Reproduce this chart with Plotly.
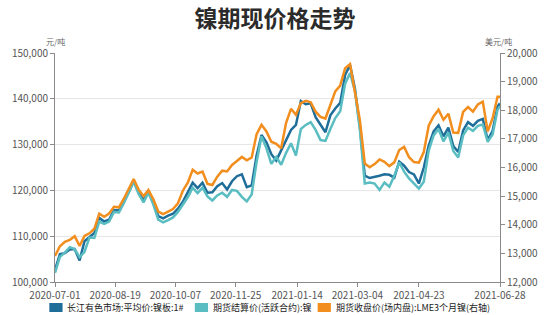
import plotly.graph_objects as go

dates = [
    "2020-07-01", "2020-07-05", "2020-07-09", "2020-07-13", "2020-07-17", "2020-07-21", "2020-07-25", "2020-07-29",
    "2020-08-02", "2020-08-06", "2020-08-10", "2020-08-14", "2020-08-18", "2020-08-22", "2020-08-26", "2020-08-30",
    "2020-09-03", "2020-09-07", "2020-09-11", "2020-09-15", "2020-09-19", "2020-09-23", "2020-09-27", "2020-10-01",
    "2020-10-05", "2020-10-09", "2020-10-13", "2020-10-17", "2020-10-21", "2020-10-25", "2020-10-29", "2020-11-02",
    "2020-11-06", "2020-11-10", "2020-11-14", "2020-11-18", "2020-11-22", "2020-11-26", "2020-11-30", "2020-12-04",
    "2020-12-08", "2020-12-12", "2020-12-16", "2020-12-20", "2020-12-24", "2020-12-28", "2021-01-01", "2021-01-05",
    "2021-01-09", "2021-01-13", "2021-01-17", "2021-01-21", "2021-01-25", "2021-01-29", "2021-02-02", "2021-02-06",
    "2021-02-10", "2021-02-14", "2021-02-18", "2021-02-22", "2021-02-26", "2021-03-02", "2021-03-06", "2021-03-10",
    "2021-03-14", "2021-03-18", "2021-03-22", "2021-03-26", "2021-03-30", "2021-04-03", "2021-04-07", "2021-04-11",
    "2021-04-15", "2021-04-19", "2021-04-23", "2021-04-27", "2021-05-01", "2021-05-05", "2021-05-09", "2021-05-13",
    "2021-05-17", "2021-05-21", "2021-05-25", "2021-05-29", "2021-06-02", "2021-06-06", "2021-06-10", "2021-06-14",
    "2021-06-18", "2021-06-22", "2021-06-26", "2021-06-28",
]

# 长江有色市场:平均价:镍板:1#  (元/吨)
spot_cj = [
    102600, 106100, 106300, 107100, 107200, 104700, 108900, 109900,
    110700, 114000, 113200, 113600, 115700, 115600, 117500, 119600,
    122100, 119600, 117800, 119900, 117400, 114400, 113900, 114500,
    114900, 116000, 117500, 119500, 121700, 120500, 121700, 119500,
    119600, 120900, 121600, 120200, 122000, 123100, 123500, 120700,
    121100, 127600, 132100, 130500, 127900, 126500, 128800, 130900,
    133200, 134300, 139500, 138800, 139000, 136000, 134300, 132700,
    136400, 137900, 139100, 145200, 147400, 142200, 134000, 123200,
    122700, 122900, 123200, 123500, 123400, 122800, 126300, 125400,
    124000, 123500, 121500, 125000, 129800, 132900, 134200, 131800,
    133700, 129700, 128400, 133100, 134900, 134100, 135200, 135600,
    131000, 133000, 138300, 139000,
]

# 期货结算价(活跃合约):镍  (元/吨)
futures_settle = [
    102000, 105500, 106400, 107600, 107200, 105400, 106600, 109700,
    109600, 113200, 112700, 113200, 115300, 115200, 117200, 119400,
    121900, 119200, 117400, 119500, 116900, 113600, 113000, 113500,
    114100, 115300, 116800, 118500, 120600, 119400, 120600, 118700,
    117800, 118900, 119500, 118600, 120100, 119900, 118600, 117600,
    119100, 126200, 131800, 129200, 125800, 127300, 125600, 128200,
    130300, 127600, 133400, 134300, 134900, 133200, 131000, 130800,
    133400, 135800, 137300, 143300, 145600, 141700, 133300, 121500,
    121700, 121500, 120100, 121700, 120800, 123200, 126100, 124100,
    122600, 121400, 120400, 121900, 128700, 132000, 133400, 130700,
    132600, 128600, 127200, 132000, 133700, 133000, 134100, 134400,
    130600, 132200, 137600, 138400,
]

# 期货收盘价(场内盘):LME3个月镍  (美元/吨, 右轴)
lme_close = [
    12910, 13250, 13400, 13470, 13600, 13260, 13610, 13700,
    13860, 14390, 14280, 14390, 14630, 14610, 14910, 15260,
    15600, 15230, 15000, 15210, 14890, 14460, 14370, 14460,
    14550, 14750, 15190, 15470, 15920, 15790, 15860, 15430,
    15390, 15680, 15890, 15860, 16090, 16230, 16370, 16250,
    16350, 17160, 17490, 17260, 16900, 16830, 16670, 17560,
    18050, 17840, 18250, 18330, 18280, 17950, 17770, 17710,
    18180, 18660, 18860, 19470, 19610, 18680, 17650, 16140,
    16010, 16120, 16280, 16200, 16050, 16180, 16610, 16720,
    16360, 16190, 16170, 16540, 17460, 17790, 18020, 17670,
    17880, 17220, 17210, 17940, 18110, 17950, 18200, 18300,
    17260, 17720, 18470, 18470,
]

series_names = [
    "长江有色市场:平均价:镍板:1#",
    "期货结算价(活跃合约):镍",
    "期货收盘价(场内盘):LME3个月镍(右轴)",
]
colors = ["#1F6E9A", "#5ABDC1", "#F28E1E"]

tick_dates = ["2020-07-01", "2020-08-19", "2020-10-07", "2020-11-25",
              "2021-01-14", "2021-03-04", "2021-04-23", "2021-06-28"]

W, H = 550, 315
L, R, T, B = 42, 513, 53, 282

def px_x(p):
    return (p - L) / (R - L)

def px_y(p):
    return (B - p) / (B - T)

font_family = "Noto Sans CJK SC, Noto Sans, sans-serif"

fig = go.Figure()
fig.add_trace(go.Scatter(x=dates, y=spot_cj, mode="lines", name=series_names[0],
                         line=dict(color=colors[0], width=2.5), showlegend=False))
fig.add_trace(go.Scatter(x=dates, y=futures_settle, mode="lines", name=series_names[1],
                         line=dict(color=colors[1], width=2.5), showlegend=False))
fig.add_trace(go.Scatter(x=dates, y=lme_close, mode="lines", name=series_names[2],
                         line=dict(color=colors[2], width=2.5), showlegend=False, yaxis="y2"))

axis_common = dict(
    showline=True, linecolor="#8a8a8a", linewidth=1,
    ticks="outside", ticklen=4, tickcolor="#8a8a8a",
    tickfont=dict(size=10, color="#555555", family=font_family),
    zeroline=False,
)

fig.update_layout(
    width=W, height=H,
    margin=dict(l=L, r=W - R, t=T, b=H - B),
    paper_bgcolor="white", plot_bgcolor="white",
    font=dict(family=font_family),
    title=dict(text="镍期现价格走势", x=0.5, xref="container", xanchor="center",
               y=1 - 19 / H, yref="container", yanchor="middle",
               font=dict(size=23, color="#2b2b2b", family=font_family, weight=700)),
    xaxis=dict(type="date", range=[dates[0], dates[-1]], tickvals=tick_dates, ticktext=tick_dates,
               showgrid=False, **axis_common),
    yaxis=dict(range=[100000, 150000], dtick=10000, tickformat=",", showgrid=True,
               gridcolor="#e6e6e6", gridwidth=1, **axis_common),
    yaxis2=dict(range=[12000, 20000], dtick=1000, tickformat=",", overlaying="y", side="right",
                showgrid=False, **axis_common),
    showlegend=False,
)

annotations = [
    dict(text="元/吨", x=px_x(42), y=px_y(41), xref="paper", yref="paper", showarrow=False,
         xanchor="center", yanchor="middle", font=dict(size=8, color="#666666")),
    dict(text="美元/吨", x=px_x(511), y=px_y(41), xref="paper", yref="paper", showarrow=False,
         xanchor="center", yanchor="middle", font=dict(size=8, color="#666666")),
]
shapes = []
legend_x = [(36, 53), (190, 207), (320, 337)]
for (rx, tx), name, c in zip(legend_x, series_names, colors):
    shapes.append(dict(type="rect", xref="paper", yref="paper",
                       x0=px_x(rx), x1=px_x(rx + 14), y0=px_y(312), y1=px_y(303),
                       fillcolor=c, line=dict(width=0)))
    annotations.append(dict(text=name, x=px_x(tx), y=px_y(307.5), xref="paper", yref="paper",
                            showarrow=False, xanchor="left", yanchor="middle",
                            font=dict(size=9, color="#222222")))
fig.update_layout(annotations=annotations, shapes=shapes)

fig.write_html("out.html")
